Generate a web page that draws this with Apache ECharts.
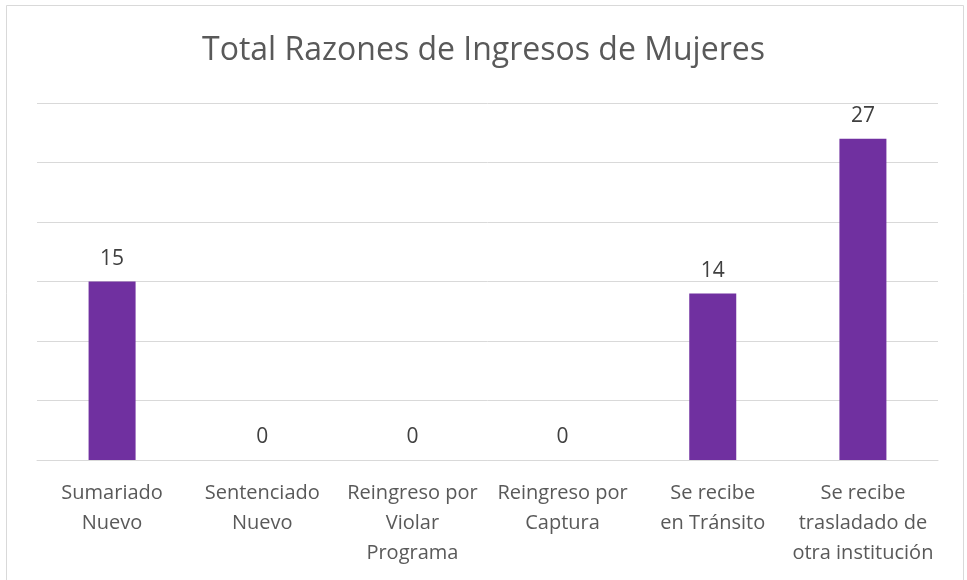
<!DOCTYPE html>
<html>
<head>
<meta charset="utf-8">
<style>
  html, body { margin: 0; padding: 0; background: #fff; }
  #chart { width: 967px; height: 580px; }
</style>
<script src="https://cdn.jsdelivr.net/npm/echarts@6/dist/echarts.min.js"></script>
</head>
<body>
<div id="chart"></div>
<script>
// ===== Total Razones de Ingresos de Mujeres =====

const TITLE = 'Total Razones de Ingresos de Mujeres';

const categories = [
  'Sumariado\nNuevo',
  'Sentenciado\nNuevo',
  'Reingreso por\nViolar\nPrograma',
  'Reingreso por\nCaptura',
  'Se recibe\nen Tránsito',
  'Se recibe\ntrasladado de\notra institución'
];

const values = [15, 0, 0, 0, 14, 27];

const FONT = '"Open Sans","Noto Sans",sans-serif';
const PURPLE = '#7030a0';
const GREY = '#595959';

const chart = echarts.init(document.getElementById('chart'), null, { renderer: 'canvas' });

chart.setOption({
  backgroundColor: '#fff',
  animation: false,
  title: {
    text: TITLE,
    left: 'center',
    top: 30,
    textStyle: { color: GREY, fontFamily: FONT, fontSize: 32, fontWeight: 'normal' }
  },
  graphic: [{
    type: 'rect',
    shape: { x: 6.5, y: 5.5, width: 957, height: 600 },
    style: { fill: 'none', stroke: '#d9d9d9', lineWidth: 1 },
    silent: true
  }],
  grid: { left: 37, right: 29, top: 103, bottom: 120, containLabel: false },
  xAxis: {
    type: 'category',
    data: categories,
    axisLine: { show: true, lineStyle: { color: '#d9d9d9', width: 1 } },
    axisTick: { show: false },
    axisLabel: {
      color: GREY, fontFamily: FONT, fontSize: 20, lineHeight: 30,
      interval: 0, margin: 18
    }
  },
  yAxis: {
    type: 'value',
    min: 0,
    max: 30,
    interval: 5,
    axisLine: { show: false },
    axisTick: { show: false },
    axisLabel: { show: false },
    splitLine: { lineStyle: { color: '#d9d9d9', width: 1 } }
  },
  series: [{
    type: 'bar',
    data: values,
    barWidth: 47,
    itemStyle: { color: PURPLE },
    label: {
      show: true, position: 'top', distance: 12,
      color: '#404040', fontFamily: FONT, fontSize: 21
    }
  }]
});
</script>
</body>
</html>
